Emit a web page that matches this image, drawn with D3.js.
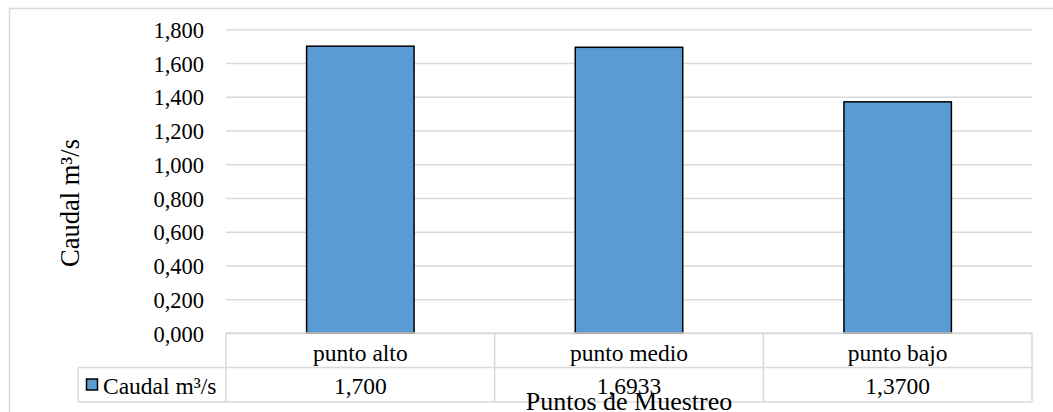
<!DOCTYPE html>
<html>
<head>
<meta charset="utf-8">
<script src="https://cdn.jsdelivr.net/npm/d3@7"></script>
<style>
  html, body { margin: 0; padding: 0; background: #fff; }
  svg { display: block; }
  text { font-family: "Liberation Serif", "Times New Roman", serif; fill: #000; }
</style>
</head>
<body>
<svg id="chart" width="1053" height="412"></svg>
<script>
// Caudal por punto de muestreo (m³/s)
const categories = ["punto alto", "punto medio", "punto bajo"];
const caudal = [1.7, 1.6933, 1.37];
const caudalDecimals = [3, 4, 4];
const yTicks = [0, 0.2, 0.4, 0.6, 0.8, 1.0, 1.2, 1.4, 1.6, 1.8];
const seriesName = "Caudal m³/s";
const yTitle = "Caudal m³/s";
const xTitle = "Puntos de Muestreo";

const esLocale = d3.formatLocale({ decimal: ",", thousands: ".", grouping: [3], currency: ["", " €"] });
const tickFmt = esLocale.format(".3f");

const svg = d3.select("#chart");
const W = 1053, H = 412;
const plot = { left: 226, right: 1032, top: 29.3, bottom: 333 };
const rowH = 34.5;
const gridColor = "#d9d9d9";
const tableFont = 23.5;

// outer chart frame
svg.append("rect")
  .attr("x", 9.5).attr("y", 8.5)
  .attr("width", W + 20).attr("height", H + 20)
  .attr("fill", "none").attr("stroke", gridColor).attr("stroke-width", 1.5);

const x = d3.scaleBand().domain(categories)
  .range([plot.left, plot.right]).paddingInner(0.6).paddingOuter(0.3);
const xCol = d3.scaleBand().domain(categories)
  .range([plot.left, plot.right]).padding(0);
const y = d3.scaleLinear().domain([0, 1.8]).range([plot.bottom, plot.top]);

// gridlines and y labels
const yAxis = d3.axisLeft(y).tickValues(yTicks).tickFormat(tickFmt)
  .tickSize(-(plot.right - plot.left)).tickPadding(22);
const gy = svg.append("g").attr("transform", `translate(${plot.left},0)`).call(yAxis);
gy.select(".domain").remove();
gy.selectAll(".tick line").attr("stroke", gridColor).attr("stroke-width", 1.5);
gy.selectAll(".tick text").attr("font-size", 22.5).attr("dy", "0.36em")
  .style("font-family", '"Liberation Serif", "Times New Roman", serif').attr("fill", "#000");

// bars
svg.append("g").selectAll("rect")
  .data(categories)
  .join("rect")
  .attr("x", d => x(d))
  .attr("y", (d, i) => y(caudal[i]))
  .attr("width", x.bandwidth())
  .attr("height", (d, i) => y(0) - y(caudal[i]))
  .attr("fill", "#5b9bd5")
  .attr("stroke", "#000")
  .attr("stroke-width", 1.5);

// data table under the axis
const table = svg.append("g").attr("stroke", gridColor).attr("stroke-width", 1.5).attr("fill", "none");
const legendLeft = 78;
const r1 = plot.bottom, r2 = plot.bottom + rowH, r3 = plot.bottom + 2 * rowH;
table.append("line").attr("x1", plot.left).attr("x2", plot.right).attr("y1", r1).attr("y2", r1);
table.append("line").attr("x1", legendLeft).attr("x2", plot.right).attr("y1", r2).attr("y2", r2);
table.append("line").attr("x1", legendLeft).attr("x2", plot.right).attr("y1", r3).attr("y2", r3);
table.append("line").attr("x1", legendLeft).attr("x2", legendLeft).attr("y1", r2).attr("y2", r3);
const colEdges = categories.map(c => xCol(c)).concat([plot.right]);
table.selectAll("line.col").data(colEdges).join("line").attr("class", "col")
  .attr("x1", d => d).attr("x2", d => d).attr("y1", r1).attr("y2", r3);

svg.append("g").selectAll("text")
  .data(categories)
  .join("text")
  .attr("x", d => xCol(d) + xCol.bandwidth() / 2)
  .attr("y", r1 + 28)
  .attr("text-anchor", "middle")
  .attr("font-size", tableFont)
  .text(d => d);

svg.append("g").selectAll("text")
  .data(categories)
  .join("text")
  .attr("x", d => xCol(d) + xCol.bandwidth() / 2)
  .attr("y", r2 + 26)
  .attr("text-anchor", "middle")
  .attr("font-size", tableFont)
  .text((d, i) => esLocale.format("." + caudalDecimals[i] + "f")(caudal[i]));

// legend key inside the table
svg.append("rect")
  .attr("x", 86.5).attr("y", r2 + 11.5)
  .attr("width", 11).attr("height", 11)
  .attr("fill", "#5b9bd5").attr("stroke", "#000").attr("stroke-width", 1.5);
svg.append("text")
  .attr("x", 103).attr("y", r2 + 26)
  .attr("font-size", tableFont)
  .text(seriesName);

// axis titles
svg.append("text")
  .attr("transform", `translate(79,203) rotate(-90)`)
  .attr("text-anchor", "middle")
  .attr("font-size", 26.5)
  .text(yTitle);

svg.append("text")
  .attr("x", (plot.left + plot.right) / 2)
  .attr("y", 409.5)
  .attr("text-anchor", "middle")
  .attr("font-size", 26)
  .text(xTitle);
</script>
</body>
</html>
